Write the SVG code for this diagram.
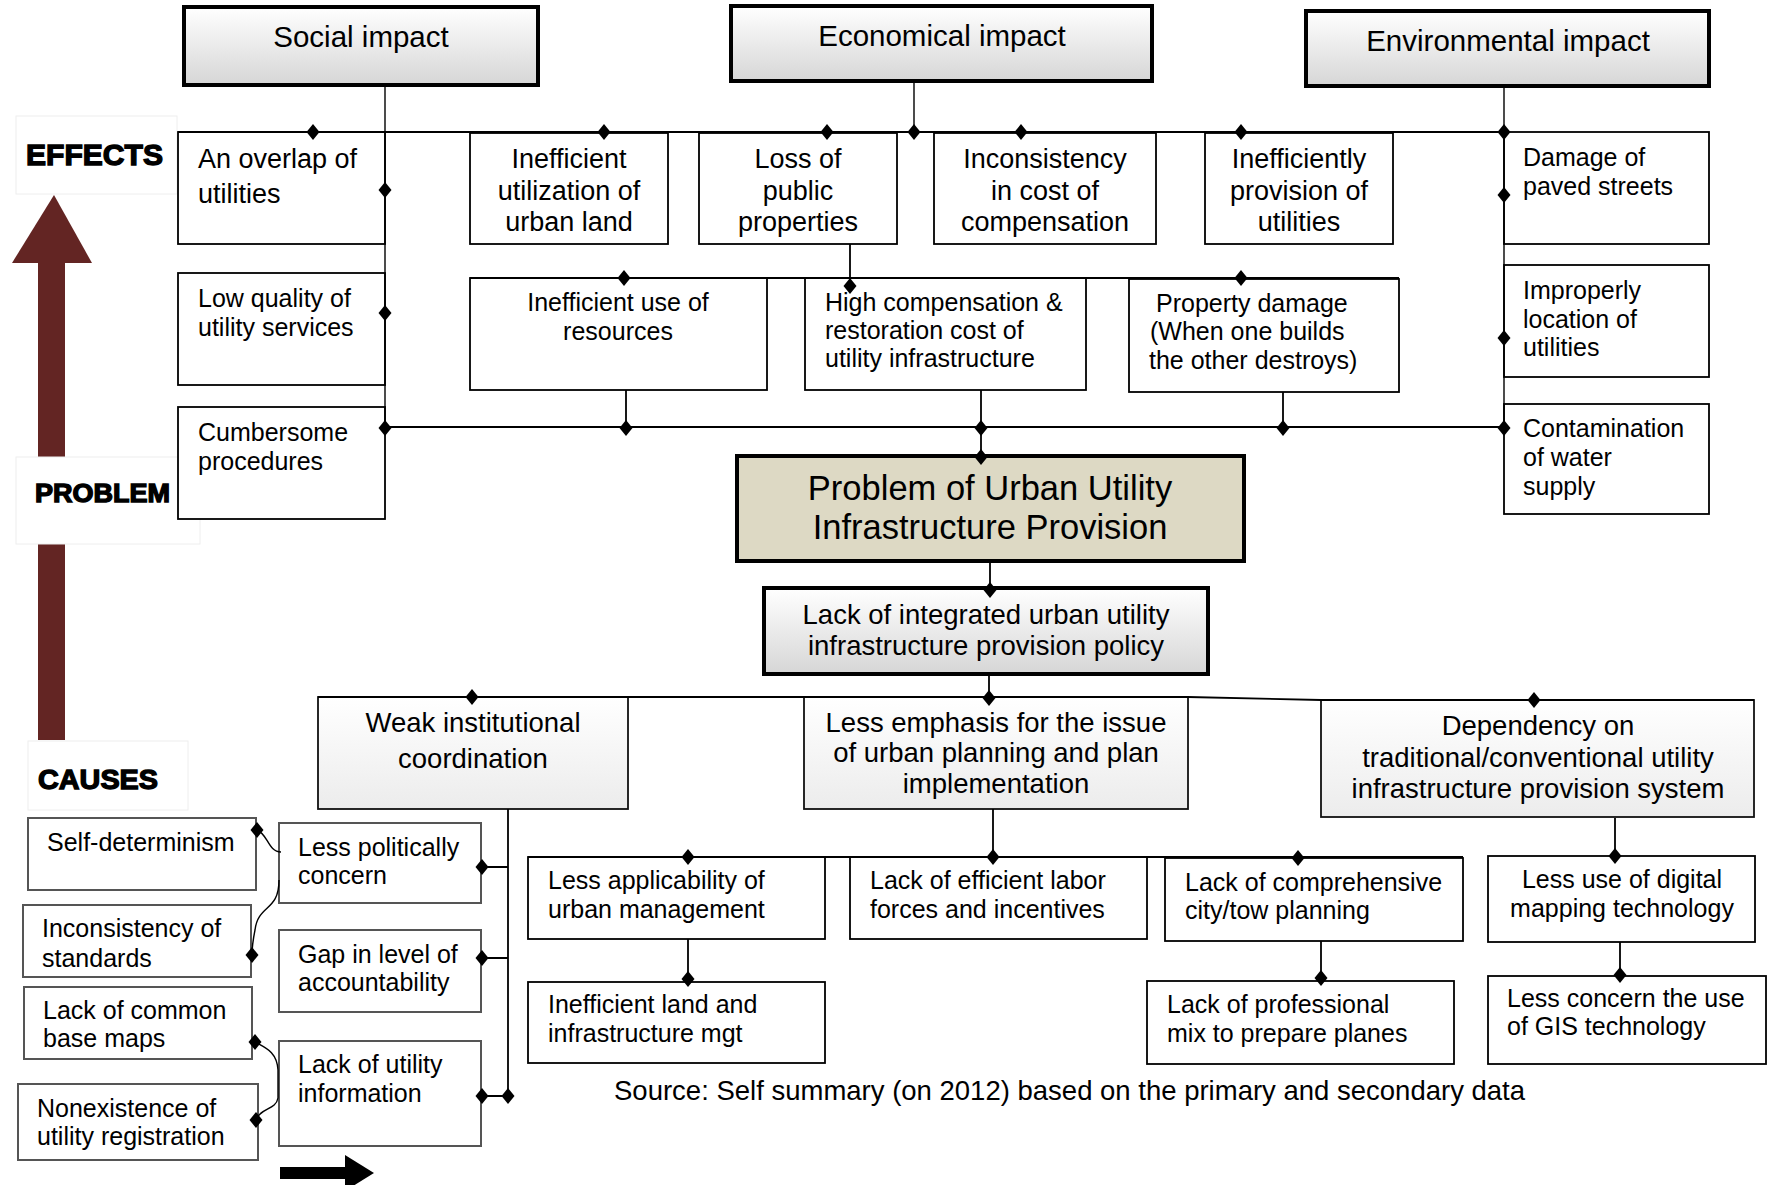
<svg xmlns="http://www.w3.org/2000/svg" width="1769" height="1185" viewBox="0 0 1769 1185">
<defs>
<linearGradient id="gHead" x1="0" y1="0" x2="0" y2="1"><stop offset="0" stop-color="#ffffff"/><stop offset="1" stop-color="#d6d6d6"/></linearGradient>
<linearGradient id="gCause" x1="0" y1="0" x2="0" y2="1"><stop offset="0" stop-color="#ffffff"/><stop offset="1" stop-color="#ececec"/></linearGradient>
<path id="dm" d="M0,-8 L6.5,0 L0,8 L-6.5,0 Z" fill="#000"/>
</defs>
<style>
text{font-family:"Liberation Sans",Arial,Helvetica,sans-serif;fill:#000}
.hd{font-size:29.5px;text-anchor:middle}
.f27{font-size:27px}
.f25{font-size:25px}
.f275{font-size:27.5px}
.c{text-anchor:middle}
.box{fill:#fff;stroke:#000;stroke-width:1.8}
.gbox{fill:#fff;stroke:#555;stroke-width:2}
.hbox{fill:url(#gHead);stroke:#000;stroke-width:4}
.cbox{fill:url(#gCause);stroke:#111;stroke-width:1.8}
.lblbox{fill:#fff;stroke:#eeeeee;stroke-width:1}
.lbl{font-weight:bold;stroke:#000;stroke-width:1.3}
.ln{stroke:#000;stroke-width:1.8;fill:none}
.thin{stroke:#000;stroke-width:1.4;fill:none}
</style>
<rect width="1769" height="1185" fill="#fff"/>

<g id="side-arrow">
<rect x="38" y="262" width="27" height="478" fill="#632523"/>
<polygon points="54,195 12,263 92,263" fill="#632523"/>
</g>
<g id="label-effects"><rect class="lblbox" x="16" y="116" width="161" height="78"/><text class="lbl" x="26" y="165" font-size="29" textLength="137" lengthAdjust="spacingAndGlyphs">EFFECTS</text></g>
<g id="label-problem"><rect class="lblbox" x="16" y="457" width="184" height="87"/><text class="lbl" x="35" y="502" font-size="25" textLength="135" lengthAdjust="spacingAndGlyphs">PROBLEM</text></g>
<g id="label-causes"><rect class="lblbox" x="28" y="741" width="160" height="69"/><text class="lbl" x="38" y="789" font-size="27" textLength="120" lengthAdjust="spacingAndGlyphs">CAUSES</text></g>

<g id="social-impact"><rect class="hbox" x="184" y="7" width="354" height="78"/><text class="hd" x="361" y="47">Social impact</text></g>
<g id="economical-impact"><rect class="hbox" x="731" y="6" width="421" height="75"/><text class="hd" x="942" y="46">Economical impact</text></g>
<g id="environmental-impact"><rect class="hbox" x="1306" y="11" width="403" height="75"/><text class="hd" x="1508" y="51">Environmental impact</text></g>

<g id="overlap"><rect class="box" x="178" y="132" width="207" height="112"/><text class="f27" x="198" y="168">An overlap of</text><text class="f27" x="198" y="203">utilities</text></g>
<g id="utilization"><rect class="box" x="470" y="133" width="198" height="111"/><text class="f27 c" x="569" y="168">Inefficient</text><text class="f27 c" x="569" y="200">utilization of</text><text class="f27 c" x="569" y="231">urban land</text></g>
<g id="loss"><rect class="box" x="699" y="133" width="198" height="111"/><text class="f27 c" x="798" y="168">Loss of</text><text class="f27 c" x="798" y="200">public</text><text class="f27 c" x="798" y="231">properties</text></g>
<g id="inconsistency-cost"><rect class="box" x="934" y="133" width="222" height="111"/><text class="f27 c" x="1045" y="168">Inconsistency</text><text class="f27 c" x="1045" y="200">in cost of</text><text class="f27 c" x="1045" y="231">compensation</text></g>
<g id="inefficiently"><rect class="box" x="1205" y="133" width="188" height="111"/><text class="f27 c" x="1299" y="168">Inefficiently</text><text class="f27 c" x="1299" y="200">provision of</text><text class="f27 c" x="1299" y="231">utilities</text></g>
<g id="damage"><rect class="box" x="1504" y="132" width="205" height="112"/><text class="f25" x="1523" y="166">Damage of</text><text class="f25" x="1523" y="195">paved streets</text></g>

<g id="low-quality"><rect class="box" x="178" y="273" width="207" height="112"/><text class="f25" x="198" y="307">Low quality of</text><text class="f25" x="198" y="336">utility services</text></g>
<g id="inefficient-use"><rect class="box" x="470" y="278" width="297" height="112"/><text class="f25 c" x="618" y="311">Inefficient use of</text><text class="f25 c" x="618" y="340">resources</text></g>
<g id="high-compensation"><rect class="box" x="805" y="278" width="281" height="112"/><text class="f25" x="825" y="311">High compensation &amp;</text><text class="f25" x="825" y="339">restoration cost of</text><text class="f25" x="825" y="367">utility infrastructure</text></g>
<g id="property-damage"><rect class="box" x="1129" y="279" width="270" height="113"/><text class="f25" x="1156" y="312">Property damage</text><text class="f25" x="1150" y="340">(When one builds</text><text class="f25" x="1149" y="369">the other destroys)</text></g>
<g id="improperly"><rect class="box" x="1504" y="265" width="205" height="112"/><text class="f25" x="1523" y="299">Improperly</text><text class="f25" x="1523" y="328">location of</text><text class="f25" x="1523" y="356">utilities</text></g>
<g id="cumbersome"><rect class="box" x="178" y="407" width="207" height="112"/><text class="f25" x="198" y="441">Cumbersome</text><text class="f25" x="198" y="470">procedures</text></g>
<g id="contamination"><rect class="box" x="1504" y="404" width="205" height="110"/><text class="f25" x="1523" y="437">Contamination</text><text class="f25" x="1523" y="466">of water</text><text class="f25" x="1523" y="495">supply</text></g>

<g id="problem"><rect x="737" y="456" width="507" height="105" fill="#ddd9c4" stroke="#000" stroke-width="4"/><text class="c" font-size="34.5" x="990" y="500">Problem of Urban Utility</text><text class="c" font-size="34.5" x="990" y="539">Infrastructure Provision</text></g>
<g id="lack-policy"><rect class="hbox" x="764" y="588" width="444" height="86"/><text class="f275 c" x="986" y="624">Lack of integrated urban utility</text><text class="f275 c" x="986" y="655">infrastructure provision policy</text></g>

<g id="weak-institutional"><rect class="cbox" x="318" y="697" width="310" height="112"/><text class="f275 c" x="473" y="732">Weak institutional</text><text class="f275 c" x="473" y="768">coordination</text></g>
<g id="less-emphasis"><rect class="cbox" x="804" y="697" width="384" height="112"/><text class="f275 c" x="996" y="732">Less emphasis for the issue</text><text class="f275 c" x="996" y="762">of urban planning and plan</text><text class="f275 c" x="996" y="793">implementation</text></g>
<g id="dependency"><rect class="cbox" x="1321" y="700" width="433" height="117"/><text class="f275 c" x="1538" y="735">Dependency on</text><text class="f275 c" x="1538" y="767">traditional/conventional utility</text><text class="f275 c" x="1538" y="798">infrastructure provision system</text></g>

<g id="less-applicability"><rect class="box" x="528" y="857" width="297" height="82"/><text class="f25" x="548" y="889">Less applicability of</text><text class="f25" x="548" y="918">urban management</text></g>
<g id="lack-labor"><rect class="box" x="850" y="857" width="297" height="82"/><text class="f25" x="870" y="889">Lack of efficient labor</text><text class="f25" x="870" y="918">forces and incentives</text></g>
<g id="lack-comprehensive"><rect class="box" x="1165" y="858" width="298" height="83"/><text class="f25" x="1185" y="891">Lack of comprehensive</text><text class="f25" x="1185" y="919">city/tow planning</text></g>
<g id="less-digital"><rect class="box" x="1488" y="856" width="267" height="86"/><text class="f25 c" x="1622" y="888">Less use of digital</text><text class="f25 c" x="1622" y="917">mapping technology</text></g>
<g id="inefficient-land"><rect class="box" x="528" y="982" width="297" height="81"/><text class="f25" x="548" y="1013">Inefficient land and</text><text class="f25" x="548" y="1042">infrastructure mgt</text></g>
<g id="lack-professional"><rect class="box" x="1147" y="981" width="307" height="83"/><text class="f25" x="1167" y="1013">Lack of professional</text><text class="f25" x="1167" y="1042">mix to prepare planes</text></g>
<g id="less-gis"><rect class="box" x="1488" y="976" width="278" height="88"/><text class="f25" x="1507" y="1007">Less concern the use</text><text class="f25" x="1507" y="1035">of GIS technology</text></g>

<g id="self-determinism"><rect class="gbox" x="28" y="818" width="228" height="72"/><text class="f25" x="47" y="851">Self-determinism</text></g>
<g id="inconsistency-standards"><rect class="gbox" x="23" y="905" width="228" height="72"/><text class="f25" x="42" y="937">Inconsistency of</text><text class="f25" x="42" y="967">standards</text></g>
<g id="base-maps"><rect class="gbox" x="24" y="987" width="228" height="72"/><text class="f25" x="43" y="1019">Lack of common</text><text class="f25" x="43" y="1047">base maps</text></g>
<g id="registration"><rect class="gbox" x="18" y="1084" width="240" height="76"/><text class="f25" x="37" y="1117">Nonexistence of</text><text class="f25" x="37" y="1145">utility registration</text></g>
<g id="less-political"><rect class="gbox" x="279" y="823" width="202" height="80"/><text class="f25" x="298" y="856">Less politically</text><text class="f25" x="298" y="884">concern</text></g>
<g id="gap-accountability"><rect class="gbox" x="279" y="930" width="202" height="82"/><text class="f25" x="298" y="963">Gap in level of</text><text class="f25" x="298" y="991">accountability</text></g>
<g id="lack-utility-info"><rect class="gbox" x="279" y="1041" width="202" height="105"/><text class="f25" x="298" y="1073">Lack of utility</text><text class="f25" x="298" y="1102">information</text></g>

<g id="connectors">
<path class="thin" d="M385,85 V427 M914,81 V132 M1504,86 V427"/>
<path class="ln" d="M178,132 H1504 M470,278 H1399 M850,244 V286 M626,390 V427 M981,390 V456 M1283,392 V427 M385,427 H1504"/>
<path class="ln" d="M990,561 V589 M989,674 V698 M318,697 H1188 L1321,700 H1754"/>
<path class="ln" d="M508,809 V1096 M482,867 H508 M482,958 H508 M482,1096 H508"/>
<path class="ln" d="M993,809 V857 M528,857 H1463 M688,939 V980 M1321,941 V979 M1615,818 V856 M1620,942 V976"/>
<path class="thin" d="M257,830 C268,834 268,852 281,852 M279,880 C279,912 258,904 255,930 C253,940 252,948 252,955"/>
<path class="thin" d="M255,1042 C266,1048 277,1052 278,1070 L278,1098 C276,1110 260,1108 256,1120"/>
<use href="#dm" x="313" y="132"/><use href="#dm" x="604" y="132"/><use href="#dm" x="827" y="132"/><use href="#dm" x="914" y="132"/><use href="#dm" x="1021" y="132"/><use href="#dm" x="1241" y="132"/><use href="#dm" x="1504" y="132"/>
<use href="#dm" x="385" y="190"/><use href="#dm" x="385" y="313"/><use href="#dm" x="385" y="428"/>
<use href="#dm" x="1504" y="195"/><use href="#dm" x="1504" y="338"/><use href="#dm" x="1504" y="428"/>
<use href="#dm" x="624" y="278"/><use href="#dm" x="1241" y="278"/><use href="#dm" x="850" y="286"/>
<use href="#dm" x="626" y="428"/><use href="#dm" x="981" y="428"/><use href="#dm" x="1283" y="428"/><use href="#dm" x="981" y="457"/>
<use href="#dm" x="990" y="590"/><use href="#dm" x="989" y="698"/><use href="#dm" x="472" y="697"/><use href="#dm" x="1534" y="700"/>
<use href="#dm" x="482" y="867"/><use href="#dm" x="482" y="958"/><use href="#dm" x="482" y="1096"/><use href="#dm" x="508" y="1096"/>
<use href="#dm" x="993" y="857"/><use href="#dm" x="688" y="857"/><use href="#dm" x="1298" y="858"/><use href="#dm" x="688" y="979"/><use href="#dm" x="1321" y="978"/><use href="#dm" x="1615" y="856"/><use href="#dm" x="1620" y="975"/>
<use href="#dm" x="257" y="830"/><use href="#dm" x="252" y="955"/><use href="#dm" x="255" y="1042"/><use href="#dm" x="256" y="1120"/>
</g>

<g id="bottom-arrow"><rect x="280" y="1167" width="66" height="12" fill="#000"/><polygon points="345,1155 374,1173 345,1191" fill="#000"/></g>
<text id="source" x="614" y="1100" font-size="27.5">Source: Self summary (on 2012) based on the primary and secondary data</text>
</svg>
